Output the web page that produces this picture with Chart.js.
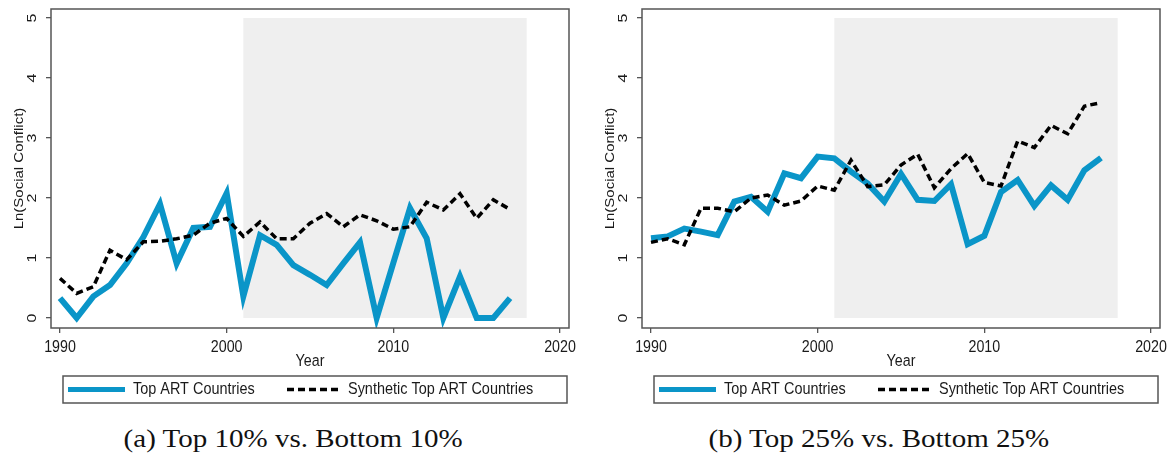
<!DOCTYPE html>
<html>
<head>
<meta charset="utf-8">
<script src="https://cdn.jsdelivr.net/npm/chart.js@4.4.1/dist/chart.umd.min.js"></script>
<style>
  body { margin: 0; background: #fff; width: 1172px; height: 456px; position: relative; overflow: hidden; }
  .panel { position: absolute; top: 0; width: 581px; height: 415px; }
  .caption { position: absolute; top: 424px; width: 586px; text-align: center; line-height: 30px;
             font-family: "Liberation Serif", "Times New Roman", serif; font-size: 25px; color: #111; }
  .caption span { display: inline-block; transform: scaleX(1.16); }
</style>
</head>
<body>
<div class="panel" style="left:0"><canvas id="chartA" width="581" height="415"></canvas></div>
<div class="panel" style="left:591px"><canvas id="chartB" width="581" height="415"></canvas></div>
<div class="caption" style="left:0"><span>(a) Top 10% vs. Bottom 10%</span></div>
<div class="caption" style="left:586px"><span>(b) Top 25% vs. Bottom 25%</span></div>
<script>
const years = [1990, 1991, 1992, 1993, 1994, 1995, 1996, 1997, 1998, 1999,
               2000, 2001, 2002, 2003, 2004, 2005, 2006, 2007, 2008, 2009,
               2010, 2011, 2012, 2013, 2014, 2015, 2016, 2017];

// (a) top 10% vs bottom 10%
const topArt10 = [0.33, 0.00, 0.36, 0.55, 0.91, 1.35, 1.90, 0.91, 1.50, 1.52,
                  2.08, 0.36, 1.38, 1.22, 0.88, 0.72, 0.55, 0.91, 1.26, 0.00,
                  0.92, 1.83, 1.33, 0.00, 0.69, 0.00, 0.00, 0.33];
const synthArt10 = [0.66, 0.41, 0.52, 1.13, 0.97, 1.27, 1.28, 1.32, 1.38, 1.58,
                    1.66, 1.36, 1.60, 1.32, 1.32, 1.58, 1.74, 1.52, 1.72, 1.62,
                    1.48, 1.52, 1.93, 1.80, 2.07, 1.66, 1.97, 1.81];

// (b) top 25% vs bottom 25%
const topArt25 = [1.33, 1.36, 1.49, 1.44, 1.38, 1.94, 2.02, 1.77, 2.41, 2.33,
                  2.69, 2.66, 2.44, 2.24, 1.94, 2.40, 1.97, 1.95, 2.23, 1.23,
                  1.37, 2.10, 2.30, 1.87, 2.21, 1.97, 2.46, 2.67];
const synthArt25 = [1.26, 1.32, 1.22, 1.83, 1.83, 1.77, 2.00, 2.05, 1.88, 1.95,
                    2.20, 2.13, 2.63, 2.19, 2.22, 2.55, 2.73, 2.17, 2.49, 2.74,
                    2.26, 2.20, 2.95, 2.84, 3.21, 3.07, 3.53, 3.59];

const seriesNames = ["Top ART Countries", "Synthetic Top ART Countries"];
const xTicks = [1990, 2000, 2010, 2020];
const yTicks = [0, 1, 2, 3, 4, 5];
const shadeYears = [2001, 2018];

const BLUE = "#0a95c8";
const AXIS = "#555";
const TEXT = "#1a1a1a";
const FONT = "'Liberation Sans', Arial, sans-serif";
const SQUEEZE = 0.85;

function text(ctx, str, x, y, size, align, rotated)
{
  ctx.save();
  ctx.translate(x, y);
  ctx.scale(SQUEEZE, 1);
  if (rotated)
    ctx.rotate(-Math.PI / 2);
  ctx.font = size + "px " + FONT;
  ctx.fillStyle = TEXT;
  ctx.textAlign = align;
  ctx.textBaseline = "middle";
  ctx.fillText(str, 0, 0);
  ctx.restore();
}

const stataLook = {
  id: "stataLook",
  beforeDatasetsDraw(chart)
  {
    const {ctx, scales: {x, y}} = chart;
    const l = x.getPixelForValue(shadeYears[0]);
    const r = x.getPixelForValue(shadeYears[1]);
    const t = y.getPixelForValue(yTicks[yTicks.length - 1]);
    const b = y.getPixelForValue(yTicks[0]);
    ctx.save();
    ctx.fillStyle = "#efefef";
    ctx.fillRect(l, t, r - l, b - t);
    ctx.restore();
  },
  afterDraw(chart)
  {
    const {ctx, chartArea: area, scales: {x, y}} = chart;
    ctx.save();
    ctx.strokeStyle = AXIS;
    ctx.lineWidth = 1.5;
    ctx.strokeRect(area.left, area.top, area.right - area.left, area.bottom - area.top);
    ctx.restore();

    x.ticks.forEach(t => text(ctx, String(t.value), x.getPixelForValue(t.value), area.bottom + 19, 16.8, "center"));
    y.ticks.forEach(t => text(ctx, String(t.value), 32, y.getPixelForValue(t.value), 16, "center", true));
    text(ctx, "Ln(Social Conflict)", 19, (area.top + area.bottom) / 2, 15, "center", true);
    text(ctx, "Year", (area.left + area.right) / 2, area.bottom + 33, 16.8, "center");

    // legend box
    const box = {l: area.left + 12, r: area.right - 2, t: 376, b: 403};
    const cy = (box.t + box.b) / 2;
    ctx.save();
    ctx.strokeStyle = AXIS;
    ctx.lineWidth = 1.5;
    ctx.strokeRect(box.l, box.t, box.r - box.l, box.b - box.t);
    const slots = [{x0: box.l + 5, x1: box.l + 62, tx: box.l + 70},
                   {x0: box.l + 224, x1: box.l + 277, tx: box.l + 285}];
    chart.data.datasets.forEach((ds, i) =>
    {
      const s = slots[i];
      ctx.beginPath();
      ctx.strokeStyle = ds.borderColor;
      ctx.lineWidth = i === 0 ? 5 : 3.5;
      ctx.setLineDash(ds.borderDash || []);
      ctx.moveTo(s.x0, cy);
      ctx.lineTo(s.x1, cy);
      ctx.stroke();
      ctx.setLineDash([]);
      text(ctx, ds.label, s.tx, cy, 17, "left");
    });
    ctx.restore();
  }
};

function makeChart(id, topVals, synthVals)
{
  return new Chart(document.getElementById(id), {
    type: "line",
    data: {
      datasets: [{
        label: seriesNames[0],
        data: years.map((yr, i) => ({x: yr, y: topVals[i]})),
        borderColor: BLUE,
        borderWidth: 6,
        pointRadius: 0,
        order: 2,
      }, {
        label: seriesNames[1],
        data: years.map((yr, i) => ({x: yr, y: synthVals[i]})),
        borderColor: "#000",
        borderWidth: 3.5,
        borderDash: [7, 4],
        pointRadius: 0,
        order: 1,
      }],
    },
    options: {
      responsive: false,
      animation: false,
      devicePixelRatio: 1,
      layout: {padding: {left: 0, top: 9, right: 12, bottom: 45}},
      plugins: {
        legend: {display: false},
        tooltip: {enabled: false},
      },
      scales: {
        x: {
          type: "linear",
          min: 1989.46,
          max: 2020.54,
          afterBuildTicks: s => { s.ticks = xTicks.map(v => ({value: v})); },
          afterFit: s => { s.height = 42; },
          ticks: {display: false},
          border: {display: false},
          grid: {drawOnChartArea: false, tickLength: 5, color: AXIS, lineWidth: 1.3},
        },
        y: {
          min: -0.167,
          max: 5.15,
          afterBuildTicks: s => { s.ticks = yTicks.map(v => ({value: v})); },
          afterFit: s => { s.width = 51; },
          ticks: {display: false},
          border: {display: false},
          grid: {drawOnChartArea: false, tickLength: 5, color: AXIS, lineWidth: 1.3},
        },
      },
    },
    plugins: [stataLook],
  });
}

makeChart("chartA", topArt10, synthArt10);
makeChart("chartB", topArt25, synthArt25);
</script>
</body>
</html>
